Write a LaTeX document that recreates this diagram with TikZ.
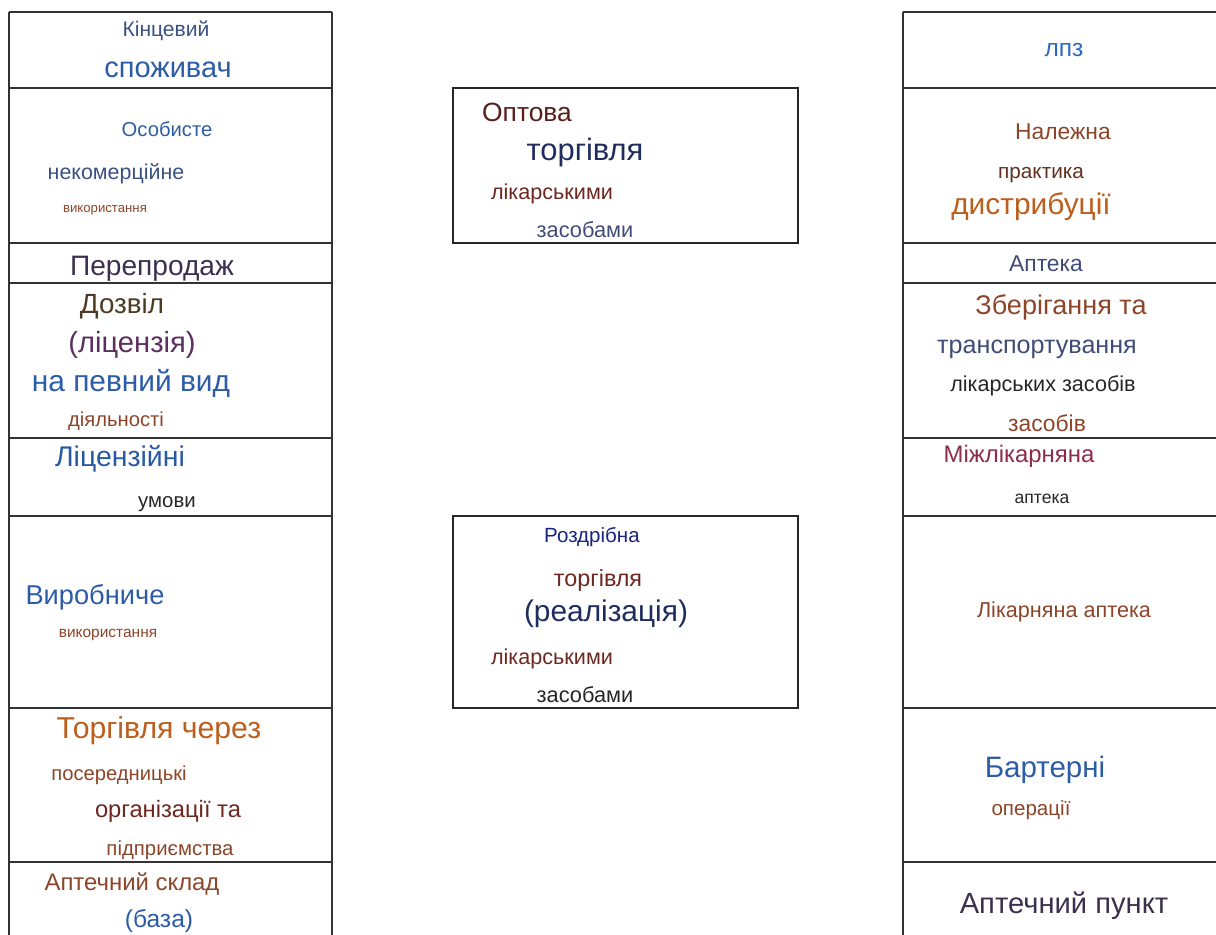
\documentclass[tikz,border=0pt]{standalone}
\usepackage{fontspec}
\setmainfont{Liberation Sans}
\setsansfont{Liberation Sans}
\usepackage{tikz}
\definecolor{navyC}{HTML}{1F2D5E}
\definecolor{slateC}{HTML}{3A5184}
\definecolor{blueC}{HTML}{2C5CA6}
\definecolor{ltblueC}{HTML}{2F6AC0}
\definecolor{brownC}{HTML}{8C4528}
\definecolor{orangeC}{HTML}{BC5E1C}
\definecolor{dredC}{HTML}{6E2620}
\definecolor{plumC}{HTML}{3C2F4F}
\definecolor{purpC}{HTML}{5B2F5E}
\definecolor{oliveC}{HTML}{4B3B22}
\definecolor{maroonC}{HTML}{8C2C4C}
\definecolor{darkC}{HTML}{262626}
\tikzset{
  lbl/.style = {inner sep=0pt, align=center, yshift=-1.2pt},% text in a cell
  sz/.style = {font=\sffamily\fontsize{#1}{#1}\selectfont},% font size, pt
  rule_line/.style = {draw=black!80, line width=0.8pt},% table lines
  box_line/.style = {draw=black!85, line width=0.8pt}% middle boxes
}
\begin{document}
\begin{tikzpicture}[x=0.02cm, y=-0.02cm]
      \useasboundingbox (0,0) rectangle (1216,935);
      % left column
      \draw[rule_line] (9,12) -- (9,940) (332,12) -- (332,940);
      \foreach \y in {12,88,243,283,438,516,708,862}
        \draw[rule_line] (9,\y) -- (332,\y);
      % right column
      \draw[rule_line] (903,12) -- (903,940);
      \foreach \y in {12,88,243,283,438,516,708,862}
        \draw[rule_line] (903,\y) -- (1220,\y);
      % middle boxes
      \draw[box_line] (453,88) rectangle (798,243);
      \draw[box_line] (453,516) rectangle (798,708);

      % left column texts
      \node [lbl, sz=12, text=slateC] (kin) at (166,29) {Кінцевий};
      \node [lbl, sz=16.5, text=blueC] (spo) at (168,68) {споживач};
      \node [lbl, sz=11.5, text=blueC] (oso) at (167,127) {Особисте};
      \node [lbl, sz=12.2, text=slateC] (nek) at (116,172) {некомерційне};
      \node [lbl, sz=7.5, text=brownC] (vyk1) at (105,208) {використання};
      \node [lbl, sz=16, text=plumC] (per) at (152,267) {Перепродаж};
      \node [lbl, sz=15.8, text=oliveC] (doz) at (122,304) {Дозвіл};
      \node [lbl, sz=16.6, text=purpC] (lic) at (132,343) {(ліцензія)};
      \node [lbl, sz=17, text=blueC] (nap) at (131,381) {на певний вид};
      \node [lbl, sz=11.5, text=brownC] (dia) at (116,419) {діяльності};
      \node [lbl, sz=16.2, text=ltblueC!85!black] (licu) at (120,457) {Ліцензійні};
      \node [lbl, sz=11.6, text=darkC] (umo) at (167,502) {умови};
      \node [lbl, sz=15.5, text=blueC] (vyr) at (95,595) {Виробниче};
      \node [lbl, sz=8.8, text=brownC] (vyk2) at (108,633) {використання};
      \node [lbl, sz=17.2, text=orangeC] (tor) at (159,729) {Торгівля через};
      \node [lbl, sz=11.5, text=brownC] (pos) at (119,773) {посередницькі};
      \node [lbl, sz=13.5, text=dredC] (org) at (168,809) {організації та};
      \node [lbl, sz=11.6, text=brownC] (pid) at (170,848) {підприємства};
      \node [lbl, sz=13.6, text=brownC] (skl) at (132,882) {Аптечний склад};
      \node [lbl, sz=14, text=blueC] (baz) at (159,919) {(база)};

      % middle texts
      \node [lbl, sz=15, text=dredC!80!black] (opt) at (527,110) {Оптова};
      \node [lbl, sz=17.6, text=navyC] (tor1) at (585,150) {торгівля};
      \node [lbl, sz=12.3, text=dredC] (lik1) at (552,192) {лікарськими};
      \node [lbl, sz=12.4, text=navyC!85!white] (zas1) at (585,228) {засобами};
      \node [lbl, sz=11.7, text=navyC!80!blue] (roz) at (592,535) {Роздрібна};
      \node [lbl, sz=13.3, text=dredC] (tor2) at (598,578) {торгівля};
      \node [lbl, sz=17, text=navyC] (rea) at (606,612) {(реалізація)};
      \node [lbl, sz=12.3, text=dredC] (lik2) at (552,657) {лікарськими};
      \node [lbl, sz=12.4, text=darkC] (zas2) at (585,693) {засобами};

      % right column texts
      \node [lbl, sz=14, text=ltblueC] (lpz) at (1064,48) {лпз};
      \node [lbl, sz=13, text=brownC] (nal) at (1063,130) {Належна};
      \node [lbl, sz=11.8, text=brownC!70!black] (pra) at (1041,173) {практика};
      \node [lbl, sz=17, text=orangeC] (dys) at (1031,205) {дистрибуції};
      \node [lbl, sz=13, text=navyC!85!white] (apt) at (1046,262) {Аптека};
      \node [lbl, sz=15.4, text=brownC] (zbe) at (1061,305) {Зберігання та};
      \node [lbl, sz=14.3, text=navyC!85!white] (tra) at (1037,347) {транспортування};
      \node [lbl, sz=12.3, text=darkC] (lza) at (1043,384) {лікарських засобів};
      \node [lbl, sz=13, text=brownC] (zsb) at (1047,421) {засобів};
      \node [lbl, sz=13.6, text=maroonC] (mij) at (1019,454) {Міжлікарняна};
      \node [lbl, sz=10, text=darkC] (apt2) at (1042,497) {аптека};
      \node [lbl, sz=12.3, text=brownC] (lap) at (1064,610) {Лікарняна аптека};
      \node [lbl, sz=16.8, text=blueC] (bar) at (1045,768) {Бартерні};
      \node [lbl, sz=11.7, text=brownC] (ope) at (1031,808) {операції};
      \node [lbl, sz=16.6, text=plumC] (pun) at (1064,904) {Аптечний пункт};
\end{tikzpicture}
\end{document}
